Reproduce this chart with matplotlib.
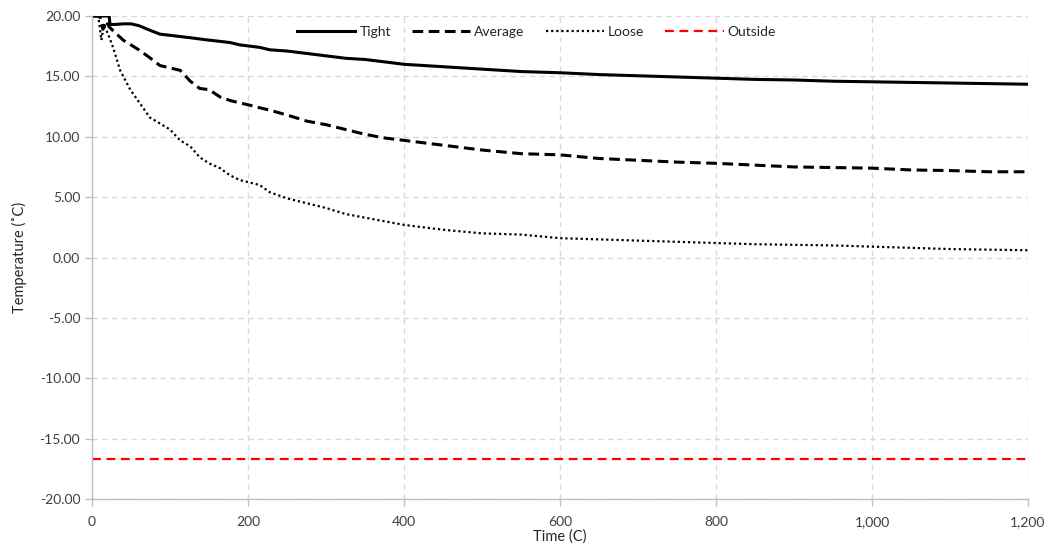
import matplotlib.pyplot as plt
from matplotlib.ticker import FuncFormatter

# datos
t_tight = [0, 10, 22, 23, 30, 40, 50, 60, 75, 87, 100, 113, 126, 138, 150, 164, 177, 190, 203, 215, 228,
           250, 275, 300, 325, 350, 375, 400, 450, 500, 550, 600, 650, 700, 750, 800, 850, 900, 950,
           1000, 1050, 1100, 1150, 1200]
tight = [20.0, 20.0, 20.0, 19.3, 19.3, 19.35, 19.35, 19.2, 18.8, 18.5, 18.4, 18.3, 18.2, 18.1, 18.0, 17.9,
         17.8, 17.6, 17.5, 17.4, 17.2, 17.1, 16.9, 16.7, 16.5, 16.4, 16.2, 16.0, 15.8, 15.6, 15.4, 15.3,
         15.15, 15.05, 14.95, 14.85, 14.75, 14.7, 14.6, 14.55, 14.5, 14.45, 14.4, 14.35]

t_avg = [0, 10, 14, 18, 22, 30, 40, 50, 60, 75, 87, 100, 113, 126, 138, 150, 164, 177, 190, 203, 215,
         228, 250, 275, 300, 325, 350, 375, 400, 450, 500, 550, 600, 650, 700, 750, 800, 850, 900, 950,
         1000, 1050, 1100, 1150, 1200]
average = [20.0, 20.0, 18.9, 19.6, 19.1, 18.6, 18.0, 17.6, 17.2, 16.5, 15.9, 15.7, 15.5, 14.6, 14.0,
           13.9, 13.3, 13.0, 12.8, 12.6, 12.4, 12.2, 11.8, 11.3, 11.0, 10.6, 10.2, 9.9, 9.7, 9.3, 8.9,
           8.6, 8.5, 8.2, 8.05, 7.9, 7.8, 7.65, 7.5, 7.45, 7.4, 7.25, 7.2, 7.1, 7.1]

t_loose = [0, 8, 12, 15, 20, 27, 36, 49, 61, 74, 87, 100, 113, 126, 138, 150, 164, 177, 190, 203, 215,
           228, 250, 275, 300, 325, 350, 375, 400, 450, 500, 550, 600, 650, 700, 750, 800, 850, 900,
           950, 1000, 1050, 1100, 1150, 1200]
loose = [20.0, 20.0, 18.0, 19.2, 18.6, 17.4, 15.5, 13.9, 12.8, 11.6, 11.1, 10.6, 9.7, 9.2, 8.3, 7.8,
         7.4, 6.8, 6.4, 6.2, 6.0, 5.4, 4.9, 4.5, 4.1, 3.6, 3.3, 3.0, 2.7, 2.3, 2.0, 1.9, 1.6, 1.5, 1.4,
         1.3, 1.2, 1.1, 1.05, 1.0, 0.9, 0.8, 0.7, 0.65, 0.6]

t_outside = [0, 1200]
outside = [-16.7, -16.7]

plt.rcParams['font.family'] = ['Lato', 'DejaVu Sans']
plt.rcParams['font.size'] = 10

fig = plt.figure(figsize=(10.53, 5.48), dpi=100)
ax = fig.add_axes([0.0874, 0.0894, 0.8889, 0.8814])

ax.plot(t_tight, tight, color='black', lw=2.2, ls='-', label='Tight')
ax.plot(t_avg, average, color='black', lw=2.2, ls=(0, (3.5, 1.8)), label='Average')
ax.plot(t_loose, loose, color='black', lw=1.6, ls=(0, (1, 1.3)), label='Loose')
ax.plot(t_outside, outside, color='#ff0000', lw=1.6, ls=(0, (4, 2.5)), label='Outside')

ax.set_xlim(0, 1200)
ax.set_ylim(-20, 20)
ax.set_xticks(range(0, 1201, 200))
ax.set_yticks(range(-20, 21, 5))
ax.xaxis.set_major_formatter(FuncFormatter(lambda v, p: '{:,.0f}'.format(v)))
ax.yaxis.set_major_formatter(FuncFormatter(lambda v, p: '{:.2f}'.format(v)))

ax.grid(True, color='#d9d9d9', ls=(0, (4, 3)), lw=1.0)
ax.set_axisbelow(True)
for s in ['top', 'right']:
    ax.spines[s].set_visible(False)
for s in ['left', 'bottom']:
    ax.spines[s].set_color('#bfbfbf')
    ax.spines[s].set_linewidth(1.0)
ax.tick_params(colors='#bfbfbf', labelcolor='#404040', length=5, width=1.0, labelsize=10)
ax.tick_params(axis='x', pad=7)

ax.set_xlabel('Time (C)', fontsize=10.5, color='#262626', labelpad=1)
ax.set_ylabel('Temperature (˚C)', fontsize=10.5, color='#262626', labelpad=9)

ax.legend(loc='upper center', bbox_to_anchor=(0.475, 1.005), ncol=4, frameon=False,
          fontsize=10, handlelength=4.2, columnspacing=1.5, handletextpad=0.3,
          labelcolor='#262626')

fig.savefig('out.png', dpi=100)
